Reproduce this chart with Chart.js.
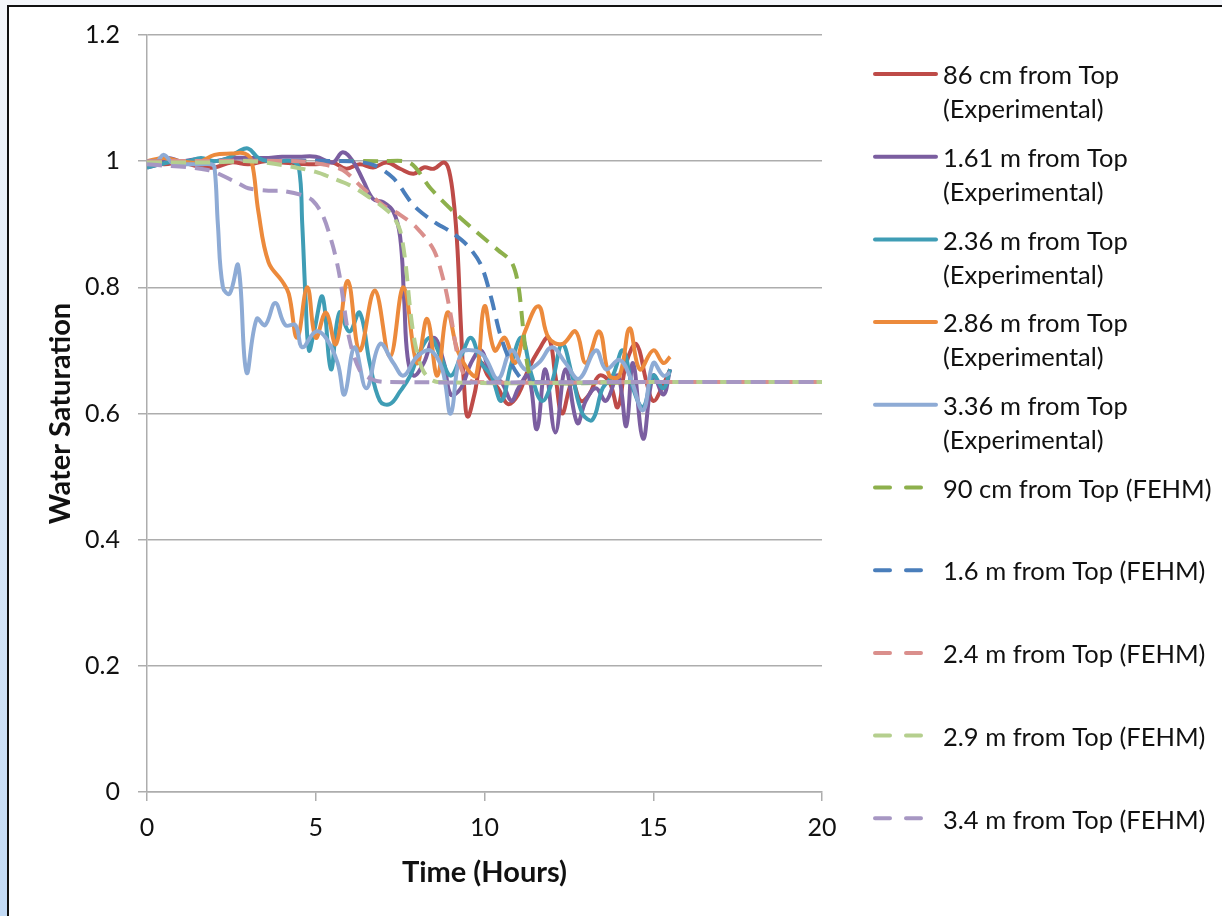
<!DOCTYPE html>
<html>
<head>
<meta charset="utf-8">
<script src="https://cdn.jsdelivr.net/npm/chart.js@4.4.1/dist/chart.umd.min.js"></script>
<style>
html, body { margin: 0; padding: 0; }
body {
    width: 1222px; height: 916px; overflow: hidden; position: relative;
    background: linear-gradient(to bottom, #f4f6fa 0%, #dde9f7 45%, #c3dbf6 100%);
}
#frame {
    position: absolute; left: 7px; top: 5px; width: 1240px; height: 940px;
    background: #fff; border: 2px solid #111;
}
#wrap { position: absolute; left: 0; top: 0; width: 1222px; height: 916px; }
</style>
</head>
<body>
<div id="frame"></div>
<div id="wrap"><canvas id="chart" width="1222" height="916"></canvas></div>
<script>
// Osie
const timeTicks = [0, 5, 10, 15, 20];
const satTicks = [0, 0.2, 0.4, 0.6, 0.8, 1, 1.2];

// Pomiary (czas [h], nasycenie)
const exp86 = [[0,1.0],[0.5,0.995],[1,0.998],[1.5,0.992],[2,0.99],[2.5,0.998],[3,0.995],[3.5,1.0],[4,0.998],[4.5,0.996],
    [5,0.995],[5.5,0.998],[5.9,0.988],[6.3,0.995],[6.7,0.99],[7.1,0.998],[7.5,0.988],[7.9,0.98],[8.2,0.99],[8.5,0.988],
    [8.8,0.998],[8.95,0.985],[9.1,0.93],[9.2,0.86],[9.3,0.74],[9.4,0.64],[9.5,0.595],[9.7,0.63],[9.9,0.68],[10.1,0.66],
    [10.4,0.64],[10.7,0.615],[11.0,0.63],[11.3,0.67],[11.6,0.7],[11.9,0.72],[12.1,0.66],[12.3,0.6],[12.6,0.65],[12.85,0.62],
    [13.1,0.63],[13.4,0.66],[13.7,0.65],[13.95,0.61],[14.2,0.68],[14.5,0.71],[14.8,0.65],[15.0,0.62],[15.25,0.64],[15.5,0.67]];
const exp161 = [[0,0.99],[0.3,0.995],[0.6,1.005],[1,1.0],[1.5,1.003],[2,1.0],[2.5,1.005],[3,1.005],[3.5,1.005],[4,1.007],
    [4.5,1.007],[5,1.007],[5.5,0.998],[5.8,1.014],[6.1,1.0],[6.4,0.97],[6.7,0.94],[7.0,0.935],[7.3,0.92],[7.5,0.88],
    [7.62,0.78],[7.72,0.69],[7.9,0.66],[8.2,0.68],[8.5,0.72],[8.8,0.68],[9.0,0.63],[9.3,0.64],[9.6,0.68],[9.9,0.7],
    [10.2,0.66],[10.5,0.65],[10.8,0.62],[11.0,0.64],[11.3,0.66],[11.55,0.575],[11.8,0.67],[12.1,0.57],[12.4,0.67],[12.75,0.585],
    [13.0,0.62],[13.3,0.64],[13.6,0.62],[13.95,0.66],[14.2,0.58],[14.4,0.68],[14.7,0.56],[15.0,0.66],[15.3,0.63],[15.5,0.67]];
const exp236 = [[0,0.99],[0.4,0.995],[0.8,1.0],[1.2,1.0],[1.6,1.005],[2,1.0],[2.4,1.005],[2.7,1.015],[3,1.02],[3.3,1.005],
    [3.6,1.0],[4,1.0],[4.3,1.0],[4.5,0.99],[4.6,0.9],[4.7,0.78],[4.8,0.7],[4.95,0.73],[5.2,0.785],[5.45,0.67],
    [5.7,0.76],[6.0,0.73],[6.3,0.76],[6.6,0.68],[6.9,0.62],[7.2,0.615],[7.5,0.635],[7.8,0.66],[8.1,0.7],[8.4,0.72],
    [8.7,0.69],[9.0,0.66],[9.3,0.69],[9.6,0.72],[9.9,0.68],[10.2,0.66],[10.5,0.62],[10.8,0.68],[11.1,0.72],[11.4,0.66],
    [11.7,0.62],[12.0,0.65],[12.3,0.71],[12.6,0.66],[12.9,0.6],[13.2,0.59],[13.5,0.64],[13.8,0.66],[14.1,0.7],[14.4,0.64],
    [14.7,0.61],[15.0,0.66],[15.3,0.64],[15.5,0.67]];
const exp286 = [[0,1.0],[0.5,1.005],[1,1.0],[1.5,0.998],[2,1.01],[2.5,1.012],[2.9,1.012],[3.1,1.0],[3.3,0.92],[3.6,0.84],
    [4.0,0.81],[4.2,0.79],[4.45,0.72],[4.75,0.8],[5.0,0.72],[5.3,0.76],[5.6,0.71],[5.95,0.81],[6.3,0.7],[6.75,0.795],
    [7.2,0.69],[7.6,0.8],[8.0,0.68],[8.3,0.75],[8.6,0.66],[8.9,0.76],[9.2,0.7],[9.5,0.67],[9.75,0.66],[10.0,0.77],
    [10.3,0.7],[10.6,0.72],[10.9,0.68],[11.2,0.73],[11.6,0.77],[11.9,0.72],[12.3,0.71],[12.7,0.73],[13.0,0.68],[13.4,0.73],
    [13.7,0.66],[14.0,0.66],[14.3,0.735],[14.6,0.67],[15.0,0.7],[15.3,0.68],[15.5,0.69]];
const exp336 = [[0,0.995],[0.3,1.0],[0.5,1.01],[0.8,0.995],[1.2,0.995],[1.6,0.995],[1.9,0.995],[2.0,0.99],[2.1,0.9],[2.25,0.8],
    [2.45,0.79],[2.7,0.835],[2.95,0.665],[3.25,0.75],[3.5,0.74],[3.8,0.775],[4.1,0.74],[4.4,0.74],[4.6,0.705],[5.0,0.73],
    [5.3,0.72],[5.65,0.68],[5.85,0.63],[6.15,0.705],[6.5,0.64],[6.9,0.71],[7.3,0.68],[7.6,0.66],[8.0,0.69],[8.4,0.7],
    [8.75,0.67],[9.0,0.6],[9.3,0.695],[9.7,0.7],[10.0,0.69],[10.4,0.655],[10.8,0.7],[11.2,0.67],[11.6,0.68],[12.0,0.705],
    [12.4,0.68],[12.8,0.655],[13.3,0.7],[13.6,0.67],[14.0,0.685],[14.3,0.66],[14.7,0.605],[15.0,0.68],[15.3,0.66],[15.5,0.665]];

// Symulacja FEHM
const fehm90 = [[0,1.0],[7.0,1.0],[7.8,0.997],[8.4,0.957],[9.1,0.919],[9.8,0.886],[10.4,0.859],[10.8,0.84],[11.0,0.804],
    [11.15,0.732],[11.3,0.669],[11.5,0.65],[15,0.65],[20,0.65]];
const fehm160 = [[0,1.0],[6.0,1.0],[6.7,0.994],[7.3,0.973],[7.9,0.93],[8.5,0.904],[9.0,0.888],[9.5,0.866],[9.9,0.835],
    [10.2,0.783],[10.45,0.728],[10.7,0.69],[11.0,0.661],[11.3,0.65],[15,0.65],[20,0.65]];
const fehm240 = [[0,1.0],[4.5,1.0],[5.2,0.995],[5.8,0.986],[6.4,0.957],[7.0,0.93],[7.5,0.915],[8.0,0.894],[8.5,0.859],
    [8.8,0.808],[9.0,0.756],[9.2,0.693],[9.4,0.661],[9.7,0.65],[15,0.65],[20,0.65]];
const fehm290 = [[0,0.998],[2,0.998],[3,1.0],[4,0.994],[5,0.983],[5.5,0.973],[6,0.962],[6.5,0.946],[7.0,0.927],[7.3,0.912],
    [7.5,0.89],[7.65,0.843],[7.8,0.764],[7.95,0.709],[8.2,0.666],[8.6,0.65],[15,0.65],[20,0.65]];
const fehm340 = [[0,0.995],[1.8,0.986],[2.7,0.965],[3.0,0.957],[3.6,0.953],[4.0,0.953],[4.6,0.946],[4.9,0.938],[5.2,0.915],
    [5.5,0.867],[5.7,0.82],[6.0,0.717],[6.3,0.669],[6.6,0.656],[7.0,0.65],[15,0.65],[20,0.65]];

const seriesData = [exp86, exp161, exp236, exp286, exp336, fehm90, fehm160, fehm240, fehm290, fehm340];
const seriesLabels = [
    '86 cm from Top\n(Experimental)',
    '1.61 m from Top\n(Experimental)',
    '2.36 m from Top\n(Experimental)',
    '2.86 m from Top\n(Experimental)',
    '3.36 m from Top\n(Experimental)',
    '90 cm from Top (FEHM)',
    '1.6 m from Top (FEHM)',
    '2.4 m from Top (FEHM)',
    '2.9 m from Top (FEHM)',
    '3.4 m from Top (FEHM)'
];
const seriesColors = ['#be4b48', '#7b5ea0', '#3f9db5', '#ec8a3c', '#8eabd5',
                      '#8db04c', '#4a7ebb', '#da8f8c', '#b5cf8e', '#a797c3'];

const FONT = 'Lato, "Open Sans", sans-serif';

// Legenda po prawej stronie (etykiety dwuwierszowe)
const sideLegend = {
    id: 'sideLegend',
    afterDraw(chart) {
        const ctx = chart.ctx;
        ctx.save();
        ctx.font = '25.5px ' + FONT;
        ctx.fillStyle = '#111';
        ctx.textBaseline = 'middle';
        chart.data.datasets.forEach((ds, i) => {
            const y = 74 + i * 82.7;
            ctx.strokeStyle = ds.borderColor;
            ctx.lineWidth = 4;
            ctx.lineCap = 'round';
            ctx.setLineDash([]);
            ctx.beginPath();
            if (ds.borderDash.length) {
                ctx.moveTo(875, y); ctx.lineTo(890, y);
                ctx.moveTo(906, y); ctx.lineTo(921, y);
            } else {
                ctx.moveTo(875, y); ctx.lineTo(936, y);
            }
            ctx.stroke();
            ds.label.split('\n').forEach((t, k) => ctx.fillText(t, 943, y + 2 + k * 34));
        });
        ctx.restore();
    }
};

const datasets = seriesData.map((pts, i) => ({
    label: seriesLabels[i],
    data: pts.map(p => ({ x: p[0], y: p[1] })),
    borderColor: seriesColors[i],
    backgroundColor: seriesColors[i],
    borderWidth: 4,
    borderDash: i < 5 ? [] : [15, 9],
    pointRadius: 0,
    tension: i < 5 ? 0.4 : 0.3,
    fill: false,
    order: seriesData.length - i
}));

const gridColor = '#adadad';

new Chart(document.getElementById('chart').getContext('2d'), {
    type: 'line',
    data: { datasets: datasets },
    options: {
        responsive: false,
        animation: false,
        layout: { padding: { left: 0, top: 35, right: 400, bottom: 0 } },
        plugins: {
            legend: { display: false },
            tooltip: { enabled: false }
        },
        scales: {
            x: {
                type: 'linear',
                min: timeTicks[0],
                max: timeTicks[timeTicks.length - 1],
                afterBuildTicks: s => { s.ticks = timeTicks.map(v => ({ value: v })); },
                afterFit: s => { s.height = 124; },
                grid: { drawOnChartArea: false, drawTicks: true, tickLength: 9, color: gridColor, lineWidth: 1.5 },
                border: { display: true, color: gridColor, width: 1.5 },
                ticks: { color: '#111', font: { family: FONT, size: 25 }, padding: 12, maxRotation: 0 },
                title: {
                    display: true, text: 'Time (Hours)', color: '#111',
                    font: { family: FONT, size: 29, weight: 'bold' },
                    padding: { top: 0, bottom: 26 }
                }
            },
            y: {
                min: satTicks[0],
                max: satTicks[satTicks.length - 1],
                afterBuildTicks: s => { s.ticks = satTicks.map(v => ({ value: v })); },
                afterFit: s => { s.width = 147; },
                grid: { drawOnChartArea: true, drawTicks: true, tickLength: 9, color: gridColor, lineWidth: 1.5 },
                border: { display: true, color: gridColor, width: 1.5 },
                ticks: {
                    color: '#111', font: { family: FONT, size: 25 }, padding: 18,
                    callback: v => String(Math.round(v * 10) / 10)
                },
                title: {
                    display: true, text: 'Water Saturation', color: '#111',
                    font: { family: FONT, size: 29, weight: 'bold' },
                    padding: { top: 43, bottom: 0 }
                }
            }
        }
    },
    plugins: [sideLegend]
});
</script>
</body>
</html>
